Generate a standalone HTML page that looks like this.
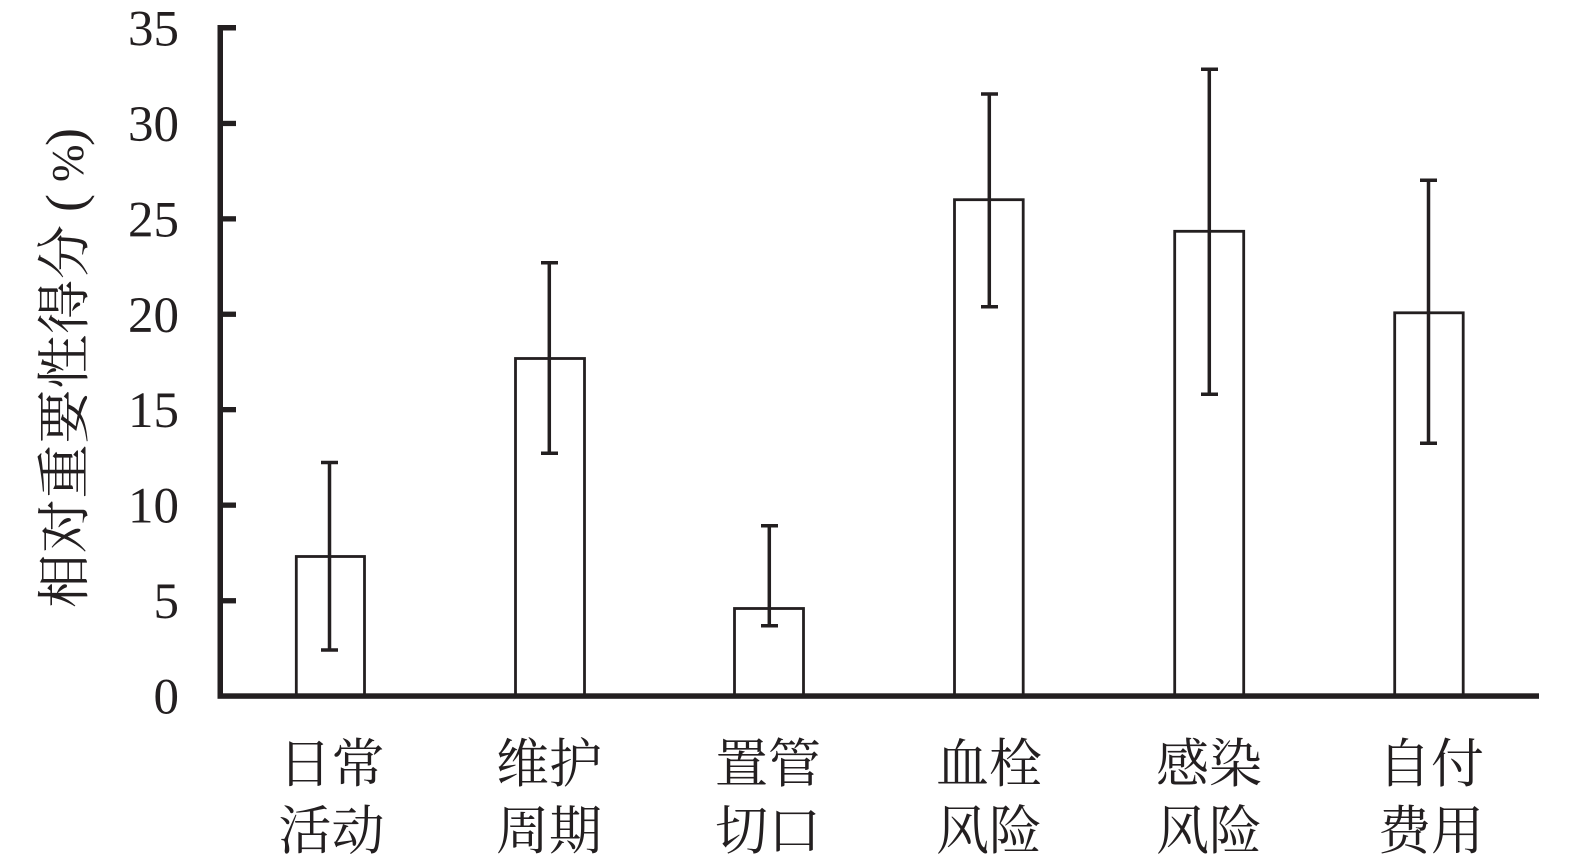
<!DOCTYPE html>
<html>
<head>
<meta charset="utf-8">
<style>
  html, body { margin:0; padding:0; background:#fff; }
  svg { display:block; }
  .tick { font-family:"Liberation Serif", serif; font-size:51px; fill:#231f20; }
  .cat { font-family:"Liberation Serif", "Noto Serif CJK SC", serif; font-size:53px; fill:#231f20; }
  .ylab { font-family:"Liberation Serif", "Noto Serif CJK SC", serif; font-size:54px; fill:#231f20; }
</style>
</head>
<body>
<svg width="1575" height="864" viewBox="0 0 1575 864" xmlns="http://www.w3.org/2000/svg">
  <rect x="0" y="0" width="1575" height="864" fill="#fff"/>

  <!-- Y axis label -->
  <g transform="translate(63,368) rotate(-90)">
    <text class="ylab" x="-240" y="20" textLength="383" lengthAdjust="spacing">相对重要性得分</text>
    <text x="156" y="20" style="font-family:'Liberation Serif',serif;font-size:54px;fill:#231f20;">(</text>
    <text x="186" y="20" style="font-family:'Liberation Serif',serif;font-size:45px;fill:#231f20;">%</text>
    <text x="222" y="20" style="font-family:'Liberation Serif',serif;font-size:54px;fill:#231f20;">)</text>
  </g>

  <!-- Tick labels -->
  <g class="tick" text-anchor="end">
    <text x="179" y="713.5">0</text>
    <text x="179" y="618.1">5</text>
    <text x="179" y="522.6">10</text>
    <text x="179" y="427.2">15</text>
    <text x="179" y="331.8">20</text>
    <text x="179" y="236.4">25</text>
    <text x="179" y="140.9">30</text>
    <text x="179" y="45.5">35</text>
  </g>

  <!-- Bars -->
  <g fill="#fff" stroke="#231f20" stroke-width="2.8">
    <rect x="296.3" y="556.5" width="68.2" height="139.5"/>
    <rect x="515.5" y="358.5" width="69" height="337.5"/>
    <rect x="734.5" y="608.5" width="69" height="87.5"/>
    <rect x="954.5" y="199.7" width="68.7" height="496.3"/>
    <rect x="1174.7" y="231.3" width="69" height="464.7"/>
    <rect x="1394.7" y="312.8" width="68.5" height="383.2"/>
  </g>

  <!-- Error bars -->
  <g stroke="#231f20" stroke-width="3.5" fill="none">
    <line x1="329.5" y1="462.5" x2="329.5" y2="650"/>
    <line x1="321" y1="462.5" x2="338" y2="462.5"/>
    <line x1="321" y1="650" x2="338" y2="650"/>

    <line x1="549.3" y1="262.7" x2="549.3" y2="453.3"/>
    <line x1="541" y1="262.7" x2="558" y2="262.7"/>
    <line x1="541" y1="453.3" x2="558" y2="453.3"/>

    <line x1="769.3" y1="525.7" x2="769.3" y2="625.7"/>
    <line x1="761" y1="525.7" x2="778" y2="525.7"/>
    <line x1="761" y1="625.7" x2="778" y2="625.7"/>

    <line x1="989.3" y1="94" x2="989.3" y2="306.7"/>
    <line x1="981" y1="94" x2="998" y2="94"/>
    <line x1="981" y1="306.7" x2="998" y2="306.7"/>

    <line x1="1209.3" y1="69.3" x2="1209.3" y2="394.3"/>
    <line x1="1201" y1="69.3" x2="1218" y2="69.3"/>
    <line x1="1201" y1="394.3" x2="1218" y2="394.3"/>

    <line x1="1428.5" y1="180.3" x2="1428.5" y2="443.3"/>
    <line x1="1420" y1="180.3" x2="1437" y2="180.3"/>
    <line x1="1420" y1="443.3" x2="1437" y2="443.3"/>
  </g>

  <!-- Axes -->
  <g fill="#231f20">
    <rect x="217.5" y="25" width="5.5" height="673.5"/>
    <rect x="217.5" y="693.3" width="1321.5" height="5.5"/>
    <!-- ticks -->
    <rect x="220" y="598.1" width="16" height="5.3"/>
    <rect x="220" y="502.5" width="16" height="5.3"/>
    <rect x="220" y="407" width="16" height="5.3"/>
    <rect x="220" y="311.6" width="16" height="5.3"/>
    <rect x="220" y="216.2" width="16" height="5.3"/>
    <rect x="220" y="120.8" width="16" height="5.3"/>
    <rect x="220" y="25" width="16" height="5.5"/>
  </g>

  <!-- Category labels -->
  <g class="cat" text-anchor="middle">
    <text x="331.5" y="782">日常</text>
    <text x="331.5" y="849">活动</text>
    <text x="549" y="782">维护</text>
    <text x="549" y="849">周期</text>
    <text x="768" y="782">置管</text>
    <text x="768" y="849">切口</text>
    <text x="989" y="782">血栓</text>
    <text x="989" y="849">风险</text>
    <text x="1209" y="782">感染</text>
    <text x="1209" y="849">风险</text>
    <text x="1431" y="782">自付</text>
    <text x="1431" y="849">费用</text>
  </g>
</svg>
</body>
</html>
